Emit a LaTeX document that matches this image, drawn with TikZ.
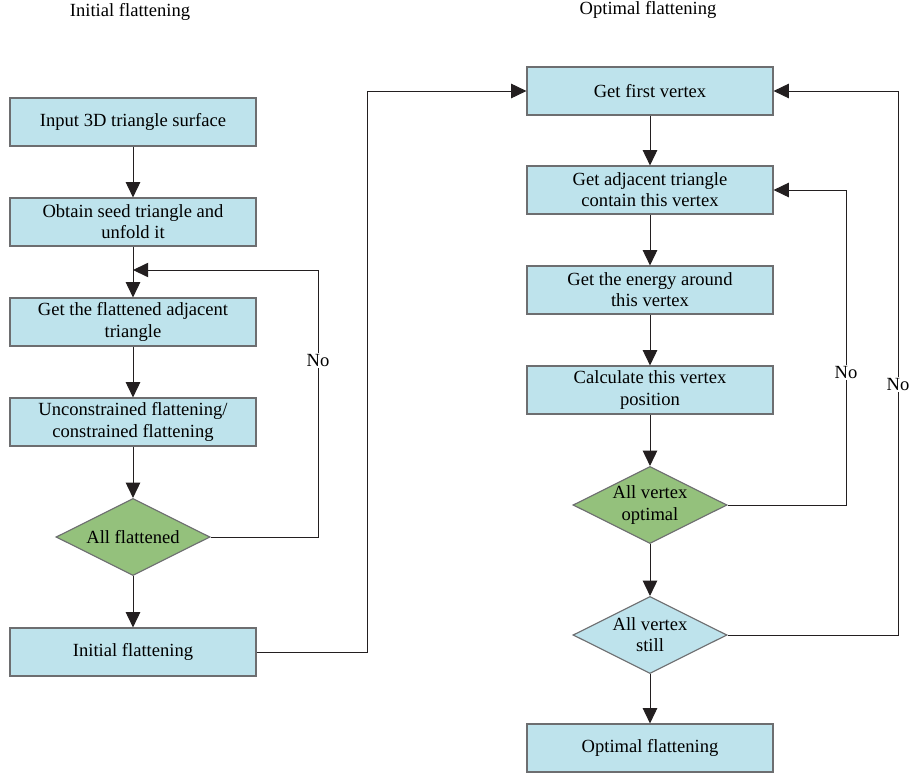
\documentclass[tikz,border=0pt]{standalone}
\usepackage{fontspec}
\setmainfont{Liberation Serif}
\usetikzlibrary{shapes.geometric,arrows.meta}
\definecolor{boxblue}{HTML}{BEE3EC}
\definecolor{boxgreen}{HTML}{94C17C}
\definecolor{linegray}{HTML}{6D6E70}
\definecolor{ink}{HTML}{231F20}
\tikzset{
  stepbox/.style={draw=linegray,fill=boxblue,line width=0.8pt,minimum width=246*0.025cm,
    minimum height=48*0.025cm,align=center,inner sep=0pt,font=\fontsize{13.2}{15}\selectfont},
  test/.style={diamond,draw=linegray,line width=0.8pt,minimum width=154*0.025cm,
    minimum height=77*0.025cm,aspect=2,inner sep=0pt,align=center,font=\fontsize{13.2}{15}\selectfont},
  flow/.style={draw=ink,line width=0.7pt,-{Triangle[length=0.38cm,width=0.36cm]}},
  back/.style={draw=ink,line width=0.7pt},
  lbl/.style={fill=white,inner sep=1pt,font=\fontsize{13.2}{15}\selectfont}
}
\begin{document}
\begin{tikzpicture}[x=0.025cm,y=-0.025cm]
  \useasboundingbox (0,0) rectangle (909,776);
  % titles
  \path (130,12) node[font=\fontsize{13.2}{15}\selectfont] (t1) {Initial flattening};
  \path (648,10) node[font=\fontsize{13.2}{15}\selectfont] (t2) {Optimal flattening};
  % left column
  \node[stepbox] (in) at (133,122) {Input 3D triangle surface};
  \node[stepbox] (seed) at (133,222) {Obtain seed triangle and\\unfold it};
  \node[stepbox] (adj) at (133,322) {Get the flattened adjacent\\triangle};
  \node[stepbox] (unc) at (133,422) {Unconstrained flattening/\\constrained flattening};
  \node[test,fill=boxgreen] (allf) at (133,537) {All flattened};
  \node[stepbox] (init) at (133,652) {Initial flattening};
  % right column
  \node[stepbox] (first) at (650,91) {Get first vertex};
  \node[stepbox] (tri) at (650,190) {Get adjacent triangle\\contain this vertex};
  \node[stepbox] (ener) at (650,290) {Get the energy around\\this vertex};
  \node[stepbox] (pos) at (650,390) {Calculate this vertex\\position};
  \node[test,fill=boxgreen] (opt) at (650,505) {All vertex\\optimal};
  \node[test,fill=boxblue] (still) at (650,635) {All vertex\\still};
  \node[stepbox] (final) at (650,748) {Optimal flattening};
  \coordinate (join) at (133,270);
  % down arrows
  \draw[flow] (in) -- (seed);
  \draw[back] (seed) -- (join);
  \draw[flow] (join) -- (adj);
  \draw[flow] (adj) -- (unc);
  \draw[flow] (unc) -- (allf);
  \draw[flow] (allf) -- (init);
  \draw[flow] (first) -- (tri);
  \draw[flow] (tri) -- (ener);
  \draw[flow] (ener) -- (pos);
  \draw[flow] (pos) -- (opt);
  \draw[flow] (opt) -- (still);
  \draw[flow] (still) -- (final);
  % loops
  \draw[flow] (allf.east) -| (318,270) node[lbl,pos=0.83] {No} -- (join);
  \draw[flow] (init.east) -- (367,652) |- (first.west);
  \draw[flow] (opt.east) -| (846,190) node[lbl,pos=0.71] {No} -- (tri.east);
  \draw[flow] (still.east) -| (898,91) node[lbl,pos=0.73] {No} -- (first.east);
\end{tikzpicture}
\end{document}
